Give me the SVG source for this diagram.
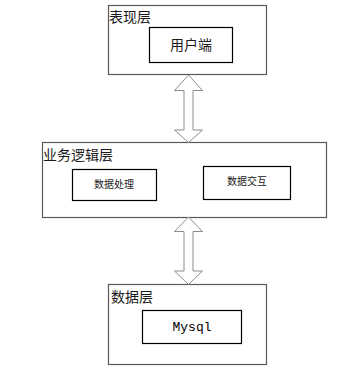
<svg xmlns="http://www.w3.org/2000/svg" width="341" height="372" viewBox="0 0 341 372">
<style>
.outer{fill:#fff;stroke:#595959;stroke-width:1.2}
.inner{fill:#fff;stroke:#000;stroke-width:1.2}
.arr{fill:#fff;stroke:#8c8c8c;stroke-width:1}
.t{font-family:"Noto Sans CJK SC","Liberation Serif",serif;fill:#1a1a1a}
.lbl{font-size:14px}
.sm{font-size:10px}
</style>
<rect width="341" height="372" fill="#fff"/>
<g id="presentation">
<rect class="outer" x="108.5" y="5.5" width="158" height="69"/>
<text class="t lbl" x="109" y="22">表现层</text>
<rect class="inner" x="149.5" y="27.5" width="83" height="35"/>
<text class="t" x="191" y="50" font-size="14" text-anchor="middle">用户端</text>
</g>
<g id="business">
<rect class="outer" x="42.5" y="142.5" width="284" height="75"/>
<text class="t lbl" x="43" y="160">业务逻辑层</text>
<rect class="inner" x="72.5" y="169.5" width="84" height="31"/>
<text class="t sm" x="114" y="188" text-anchor="middle">数据处理</text>
<rect class="inner" x="203.5" y="166.5" width="87" height="33"/>
<text class="t sm" x="247" y="185" text-anchor="middle">数据交互</text>
</g>
<g id="data">
<rect class="outer" x="108.5" y="284.5" width="158" height="80"/>
<text class="t lbl" x="111" y="302">数据层</text>
<rect class="inner" x="142.5" y="310.5" width="99" height="33"/>
<text x="192" y="331" font-family="Liberation Mono,monospace" font-size="13" text-anchor="middle">Mysql</text>
</g>
<g id="connectors">
<path class="arr" d="M188.5,75 L202.5,90.5 L193,90.5 L193,130 L202.5,130 L188.5,142.5 L174.5,130 L184,130 L184,90.5 L174.5,90.5 Z"/>
<path class="arr" d="M188.5,217 L202.5,231.5 L193,231.5 L193,271 L202.5,271 L188.5,284.5 L174.5,271 L184,271 L184,231.5 L174.5,231.5 Z"/>
</g>
</svg>
